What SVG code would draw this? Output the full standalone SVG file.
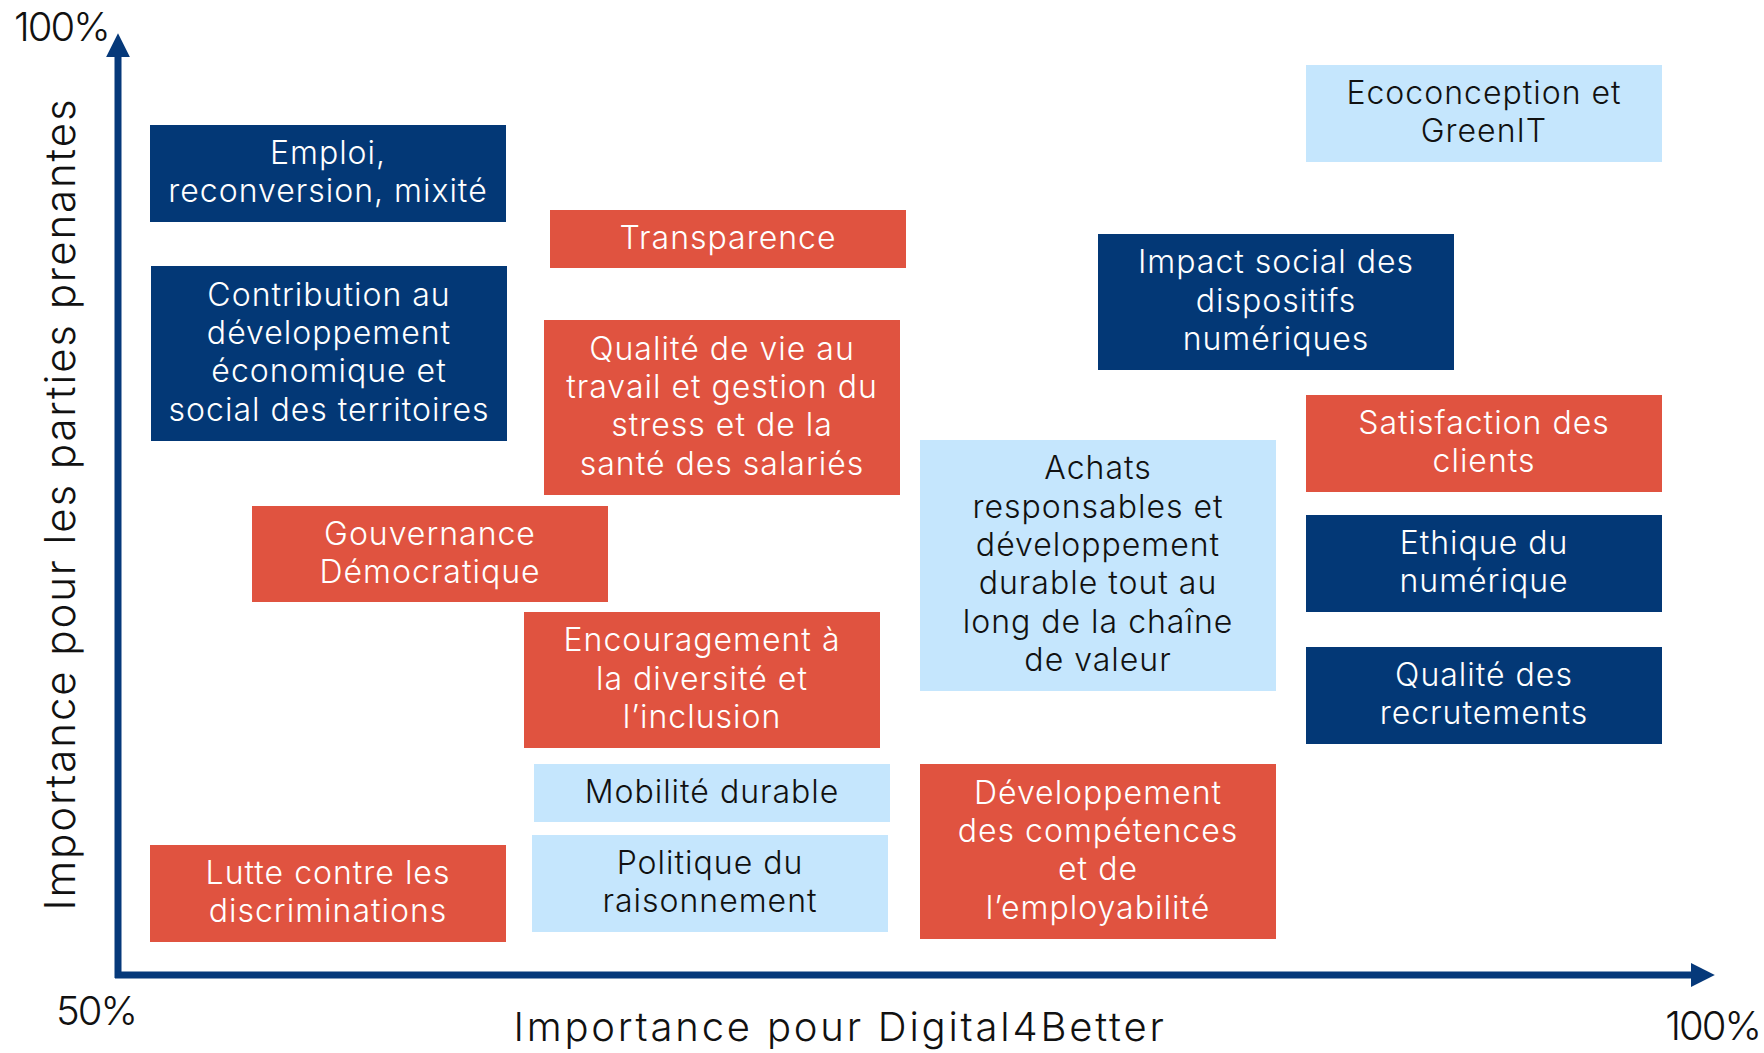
<svg xmlns="http://www.w3.org/2000/svg" width="1764" height="1053" viewBox="0 0 1764 1053">
<style>
text{font-family:Inter,"Open Sans","Noto Sans",sans-serif;font-weight:300;font-size:32px;text-anchor:middle;letter-spacing:1px}
.dk rect{fill:#033876}.rd rect{fill:#E05340}.lt rect{fill:#C5E6FD}
.dk text,.rd text{fill:#ffffff}.lt text{fill:#111111}
.ax{font-size:40px;fill:#111111}
.pc{letter-spacing:-2px}
</style>
<defs>
<marker id="ah" viewBox="0 0 10 10" refX="0" refY="5" markerWidth="3.4" markerHeight="3.4" markerUnits="strokeWidth" orient="auto"><path d="M0,0 L10,5 L0,10 Z" fill="#06397A"/></marker>
</defs>
<rect width="1764" height="1053" fill="#ffffff"/>
<g id="connectors">
<path d="M118,978 V57" stroke="#06397A" stroke-width="7" fill="none" marker-end="url(#ah)"/>
<path d="M115,975 H1691" stroke="#06397A" stroke-width="7" fill="none" marker-end="url(#ah)"/>
</g>
<g id="axis-labels">
<text class="ax pc" x="14" y="41" style="text-anchor:start">100%</text>
<text class="ax pc" x="96" y="1025">50%</text>
<text class="ax pc" x="1760" y="1040" style="text-anchor:end">100%</text>
<text class="ax" x="840" y="1041" style="letter-spacing:2.8px">Importance pour Digital4Better</text>
<text class="ax" transform="translate(75,504) rotate(-90)" style="font-size:42px;letter-spacing:1.9px">Importance pour les parties prenantes</text>
</g>
<g id="n-emploi" class="dk"><rect x="150" y="125" width="356" height="97"/><text x="328"><tspan x="328" y="164">Emploi,</tspan><tspan x="328" y="202.4">reconversion, mixité</tspan></text></g>
<g id="n-contribution" class="dk"><rect x="151" y="266" width="356" height="175"/><text><tspan x="329" y="305.6">Contribution au</tspan><tspan x="329" y="344">développement</tspan><tspan x="329" y="382.4">économique et</tspan><tspan x="329" y="420.8">social des territoires</tspan></text></g>
<g id="n-transparence" class="rd"><rect x="550" y="210" width="356" height="58"/><text x="728" y="248.7">Transparence</text></g>
<g id="n-qvt" class="rd"><rect x="544" y="320" width="356" height="175"/><text><tspan x="722" y="359.6">Qualité de vie au</tspan><tspan x="722" y="398">travail et gestion du</tspan><tspan x="722" y="436.4">stress et de la</tspan><tspan x="722" y="474.8">santé des salariés</tspan></text></g>
<g id="n-gouvernance" class="rd"><rect x="252" y="506" width="356" height="96"/><text><tspan x="430" y="544.5">Gouvernance</tspan><tspan x="430" y="582.9">Démocratique</tspan></text></g>
<g id="n-encouragement" class="rd"><rect x="524" y="612" width="356" height="136"/><text><tspan x="702" y="651.3">Encouragement à</tspan><tspan x="702" y="689.7">la diversité et</tspan><tspan x="702" y="728.1">l’inclusion</tspan></text></g>
<g id="n-mobilite" class="lt"><rect x="534" y="764" width="356" height="58"/><text x="712" y="802.7">Mobilité durable</text></g>
<g id="n-politique" class="lt"><rect x="532" y="835" width="356" height="97"/><text><tspan x="710" y="874">Politique du</tspan><tspan x="710" y="912.4">raisonnement</tspan></text></g>
<g id="n-lutte" class="rd"><rect x="150" y="845" width="356" height="97"/><text><tspan x="328" y="884">Lutte contre les</tspan><tspan x="328" y="922.4">discriminations</tspan></text></g>
<g id="n-ecoconception" class="lt"><rect x="1306" y="65" width="356" height="97"/><text><tspan x="1484" y="104">Ecoconception et</tspan><tspan x="1484" y="142.4">GreenIT</tspan></text></g>
<g id="n-impact" class="dk"><rect x="1098" y="234" width="356" height="136"/><text><tspan x="1276" y="273.3">Impact social des</tspan><tspan x="1276" y="311.7">dispositifs</tspan><tspan x="1276" y="350.1">numériques</tspan></text></g>
<g id="n-satisfaction" class="rd"><rect x="1306" y="395" width="356" height="97"/><text><tspan x="1484" y="434">Satisfaction des</tspan><tspan x="1484" y="472.4">clients</tspan></text></g>
<g id="n-achats" class="lt"><rect x="920" y="440" width="356" height="251"/><text><tspan x="1098" y="479.2">Achats</tspan><tspan x="1098" y="517.6">responsables et</tspan><tspan x="1098" y="556">développement</tspan><tspan x="1098" y="594.4">durable tout au</tspan><tspan x="1098" y="632.8">long de la chaîne</tspan><tspan x="1098" y="671.2">de valeur</tspan></text></g>
<g id="n-ethique" class="dk"><rect x="1306" y="515" width="356" height="97"/><text><tspan x="1484" y="554">Ethique du</tspan><tspan x="1484" y="592.4">numérique</tspan></text></g>
<g id="n-recrutements" class="dk"><rect x="1306" y="647" width="356" height="97"/><text><tspan x="1484" y="686">Qualité des</tspan><tspan x="1484" y="724.4">recrutements</tspan></text></g>
<g id="n-competences" class="rd"><rect x="920" y="764" width="356" height="175"/><text><tspan x="1098" y="803.6">Développement</tspan><tspan x="1098" y="842">des compétences</tspan><tspan x="1098" y="880.4">et de</tspan><tspan x="1098" y="918.8">l’employabilité</tspan></text></g>
</svg>
